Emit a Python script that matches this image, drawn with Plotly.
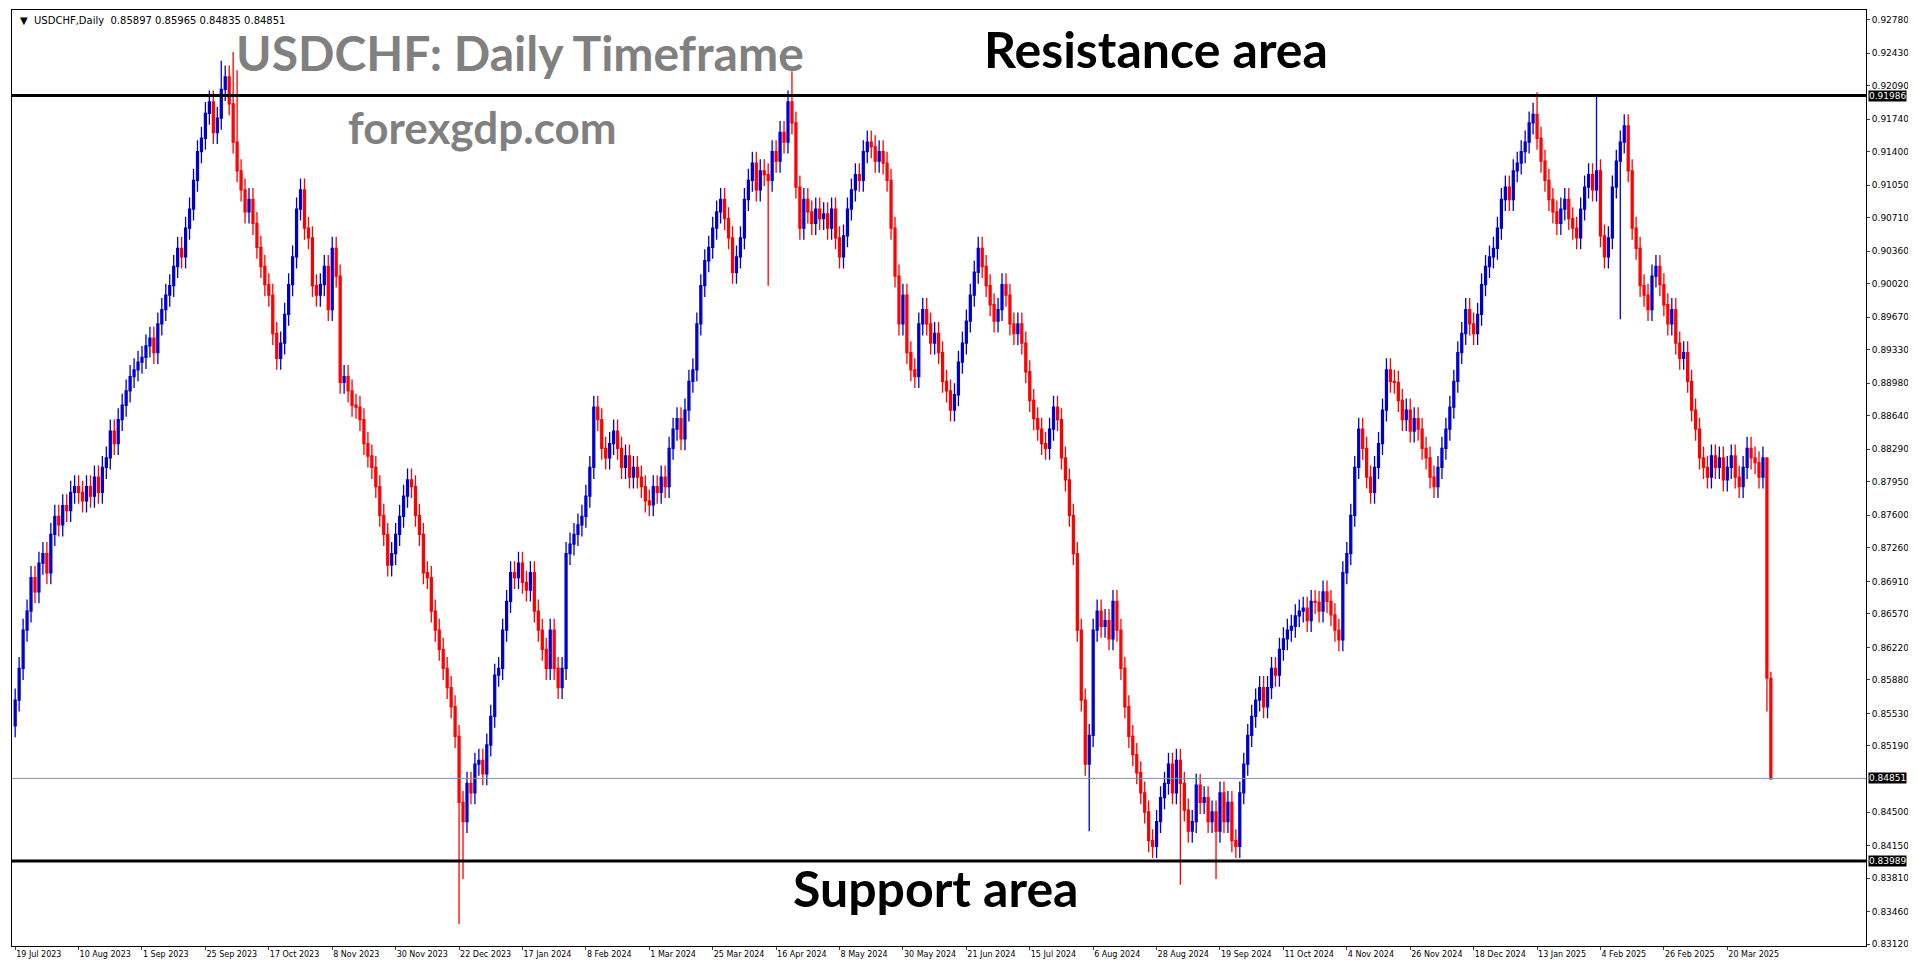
import plotly.graph_objects as go

# daily closes, 16 bars per date label
closes = [
    0.8567, 0.8600, 0.8640, 0.8660, 0.8695, 0.8680, 0.8710, 0.8720, 0.8700, 0.8740, 0.8759, 0.8750, 0.8770, 0.8765, 0.8784, 0.8790,
    0.8784, 0.8775, 0.8790, 0.8780, 0.8800, 0.8784, 0.8810, 0.8820, 0.8848, 0.8835, 0.8860, 0.8875, 0.8890, 0.8905, 0.8912, 0.8920,
    0.8925, 0.8937, 0.8945, 0.8930, 0.8960, 0.8975, 0.8990, 0.9000, 0.9020, 0.9039, 0.9030, 0.9060, 0.9080, 0.9110, 0.9140, 0.9154,
    0.9180, 0.9192, 0.9160, 0.9175, 0.9205, 0.9218, 0.9190, 0.9150, 0.9120, 0.9100, 0.9077, 0.9090, 0.9065, 0.9040, 0.9020, 0.9001,
    0.8990, 0.8950, 0.8924, 0.8940, 0.8970, 0.9001, 0.9030, 0.9080, 0.9100, 0.9060, 0.9050, 0.9000, 0.8990, 0.9001, 0.9020, 0.8975,
    0.9039, 0.9010, 0.8899, 0.8905, 0.8890, 0.8875, 0.8873, 0.8860, 0.8835, 0.8822, 0.8810, 0.8790, 0.8760, 0.8740, 0.8708, 0.8720,
    0.8740, 0.8759, 0.8780, 0.8797, 0.8790, 0.8760, 0.8740, 0.8700, 0.8695, 0.8660, 0.8640, 0.8620, 0.8600, 0.8580, 0.8560, 0.8529,
    0.8460, 0.8440, 0.8480, 0.8470, 0.8500, 0.8504, 0.8490, 0.8520, 0.8550, 0.8593, 0.8600, 0.8640, 0.8670, 0.8700, 0.8695, 0.8710,
    0.8690, 0.8682, 0.8700, 0.8660, 0.8640, 0.8620, 0.8600, 0.8640, 0.8600, 0.8580, 0.8600, 0.8720, 0.8730, 0.8740, 0.8750, 0.8759,
    0.8780, 0.8810, 0.8873, 0.8860, 0.8830, 0.8820, 0.8835, 0.8848, 0.8830, 0.8810, 0.8822, 0.8800, 0.8810, 0.8800, 0.8790, 0.8775,
    0.8771, 0.8790, 0.8784, 0.8800, 0.8790, 0.8830, 0.8850, 0.8861, 0.8840, 0.8870, 0.8900, 0.8912, 0.8960, 0.9000, 0.9026, 0.9040,
    0.9060, 0.9077, 0.9090, 0.9070, 0.9050, 0.9014, 0.9030, 0.9050, 0.9090, 0.9110, 0.9128, 0.9100, 0.9120, 0.9116, 0.9110, 0.9140,
    0.9130, 0.9160, 0.9150, 0.9192, 0.9170, 0.9103, 0.9060, 0.9090, 0.9077, 0.9065, 0.9080, 0.9070, 0.9075, 0.9060, 0.9080, 0.9050,
    0.9030, 0.9052, 0.9080, 0.9100, 0.9116, 0.9110, 0.9140, 0.9150, 0.9145, 0.9130, 0.9140, 0.9128, 0.9110, 0.9060, 0.9010, 0.8960,
    0.8990, 0.8930, 0.8912, 0.8905, 0.8960, 0.8975, 0.8960, 0.8940, 0.8950, 0.8930, 0.8900, 0.8890, 0.8870, 0.8886, 0.8920, 0.8940,
    0.8963, 0.8990, 0.9014, 0.9039, 0.9020, 0.9000, 0.8980, 0.8963, 0.8975, 0.9001, 0.8990, 0.8960, 0.8950, 0.8960, 0.8940, 0.8910,
    0.8880, 0.8861, 0.8850, 0.8835, 0.8830, 0.8850, 0.8873, 0.8860, 0.8820, 0.8797, 0.8760, 0.8720, 0.8640, 0.8567, 0.8500, 0.8530,
    0.8640, 0.8660, 0.8644, 0.8650, 0.8631, 0.8670, 0.8640, 0.8600, 0.8560, 0.8529, 0.8510, 0.8491, 0.8470, 0.8450, 0.8420, 0.8414,
    0.8440, 0.8465, 0.8480, 0.8500, 0.8470, 0.8504, 0.8480, 0.8452, 0.8430, 0.8440, 0.8478, 0.8460, 0.8465, 0.8440, 0.8450, 0.8430,
    0.8470, 0.8440, 0.8460, 0.8420, 0.8414, 0.8470, 0.8500, 0.8530, 0.8550, 0.8567, 0.8580, 0.8560, 0.8580, 0.8600, 0.8593, 0.8620,
    0.8631, 0.8640, 0.8644, 0.8655, 0.8660, 0.8663, 0.8650, 0.8670, 0.8669, 0.8660, 0.8680, 0.8670, 0.8656, 0.8640, 0.8630, 0.8700,
    0.8720, 0.8760, 0.8810, 0.8850, 0.8830, 0.8800, 0.8784, 0.8810, 0.8835, 0.8870, 0.8912, 0.8900, 0.8899, 0.8880, 0.8860, 0.8870,
    0.8848, 0.8861, 0.8850, 0.8830, 0.8820, 0.8800, 0.8790, 0.8810, 0.8830, 0.8850, 0.8873, 0.8900, 0.8930, 0.8950, 0.8975, 0.8960,
    0.8950, 0.8970, 0.9001, 0.9020, 0.9030, 0.9039, 0.9060, 0.9090, 0.9103, 0.9090, 0.9120, 0.9128, 0.9140, 0.9150, 0.9170, 0.9179,
    0.9154, 0.9130, 0.9110, 0.9090, 0.9077, 0.9065, 0.9080, 0.9090, 0.9070, 0.9060, 0.9050, 0.9080, 0.9103, 0.9116, 0.9100, 0.9120,
    0.9052, 0.9030, 0.9050, 0.9103, 0.9130, 0.9150, 0.9167, 0.9120, 0.9060, 0.9039, 0.9000, 0.8990, 0.8975, 0.9010, 0.9020, 0.9001,
    0.8980, 0.8960, 0.8975, 0.8940, 0.8924, 0.8930, 0.8900, 0.8870, 0.8850, 0.8820, 0.8810, 0.8800, 0.8822, 0.8810, 0.8820, 0.8797,
    0.8810, 0.8822, 0.8800, 0.8790, 0.8810, 0.8830, 0.8820, 0.8815, 0.8800, 0.8820, 0.8590, 0.8485,
]
first_open = 0.8540

# notable wicks: bar index -> (high, low)
spikes = {
    52: (0.9235, None), 55: (0.9244, None), 56: (0.9225, None),
    112: (None, 0.8333), 113: (None, 0.8380),
    196: (0.9224, None), 190: (None, 0.9000),
    271: (None, 0.8430), 294: (None, 0.8374), 303: (None, 0.8380),
    384: (0.9202, None), 399: (0.9200, None), 405: (None, 0.8965),
    442: (0.8600, 0.8555), 443: (0.85965, 0.84835),
}
wick = 0.0012

date_labels = ["19 Jul 2023", "10 Aug 2023", "1 Sep 2023", "25 Sep 2023", "17 Oct 2023", "8 Nov 2023",
               "30 Nov 2023", "22 Dec 2023", "17 Jan 2024", "8 Feb 2024", "1 Mar 2024", "25 Mar 2024",
               "16 Apr 2024", "8 May 2024", "30 May 2024", "21 Jun 2024", "15 Jul 2024", "6 Aug 2024",
               "28 Aug 2024", "19 Sep 2024", "11 Oct 2024", "4 Nov 2024", "26 Nov 2024", "18 Dec 2024",
               "13 Jan 2025", "4 Feb 2025", "26 Feb 2025", "20 Mar 2025"]
price_ticks = [0.92780, 0.92430, 0.92090, 0.91740, 0.91400, 0.91050, 0.90710, 0.90360, 0.90020,
               0.89670, 0.89330, 0.88980, 0.88640, 0.88290, 0.87950, 0.87600, 0.87260, 0.86910,
               0.86570, 0.86220, 0.85880, 0.85530, 0.85190, 0.84500, 0.84150, 0.83810, 0.83460, 0.83120]
resistance = 0.91986
support = 0.83989
last_price = 0.84851

opens = [first_open] + closes[:-1]
opens[-1] = 0.85897
highs, lows = [], []
for i, (o, c) in enumerate(zip(opens, closes)):
    h, l = max(o, c) + wick, min(o, c) - wick
    if i in spikes:
        sh, sl = spikes[i]
        h = sh if sh is not None else h
        l = sl if sl is not None else l
    highs.append(h)
    lows.append(l)
x = list(range(len(closes)))

axis_font = dict(size=9, family="Tahoma, DejaVu Sans", color="black")

fig = go.Figure(go.Candlestick(
    x=x, open=opens, high=highs, low=lows, close=closes,
    increasing=dict(line=dict(color="#0000CD", width=1.3), fillcolor="#0000CD"),
    decreasing=dict(line=dict(color="#FF0000", width=1.3), fillcolor="#FF0000"),
    whiskerwidth=0, showlegend=False, hoverinfo="skip"))

for lvl, col, w in [(resistance, "black", 3), (support, "black", 3), (last_price, "#8090A0", 1)]:
    fig.add_shape(type="line", xref="paper", x0=0, x1=1, y0=lvl, y1=lvl,
                  line=dict(color=col, width=w))
    fig.add_annotation(xref="paper", x=1.001, y=lvl, xanchor="left", text="%.5f" % lvl,
                       showarrow=False, bgcolor="black", font=dict(axis_font, color="white"),
                       borderpad=0)

fig.add_annotation(xref="paper", yref="paper", x=0.12, y=0.955, xanchor="left", yanchor="middle",
                   text="<b>USDCHF: Daily Timeframe</b>", showarrow=False,
                   font=dict(size=48, color="#808080", family="Lato"))
fig.add_annotation(xref="paper", yref="paper", x=0.18, y=0.875, xanchor="left", yanchor="middle",
                   text="<b>forexgdp.com</b>", showarrow=False,
                   font=dict(size=44, color="#808080", family="Lato"))
fig.add_annotation(xref="paper", yref="paper", x=0.523, y=0.958, xanchor="left", yanchor="middle",
                   text="<b>Resistance area</b>", showarrow=False,
                   font=dict(size=50, color="black", family="Lato"))
fig.add_annotation(xref="paper", yref="paper", x=0.42, y=0.062, xanchor="left", yanchor="middle",
                   text="<b>Support area</b>", showarrow=False,
                   font=dict(size=50, color="black", family="Lato"))
fig.add_annotation(xref="paper", yref="paper", x=0.003, y=0.997, xanchor="left", yanchor="top",
                   text="▼  USDCHF,Daily  0.85897 0.85965 0.84835 0.84851", showarrow=False,
                   font=dict(size=10, color="black", family="Tahoma, DejaVu Sans"))

fig.update_layout(
    width=1916, height=964, paper_bgcolor="white", plot_bgcolor="white",
    margin=dict(l=4, r=58, t=2, b=26, autoexpand=False),
    xaxis=dict(range=[-0.8, len(closes) + 23], rangeslider=dict(visible=False),
               tickvals=[i * 16 for i in range(len(date_labels))], ticktext=date_labels,
               ticklabelposition="outside right", tickangle=0,
               showgrid=False, showline=True, linecolor="black", mirror=True, ticks="outside",
               ticklen=3, tickfont=dict(axis_font, size=8)),
    yaxis=dict(range=[0.8310, 0.9288], side="right", tickvals=price_ticks,
               ticktext=["%.5f" % p for p in price_ticks], showgrid=False,
               showline=True, linecolor="black", mirror=True, ticks="outside", ticklen=3,
               tickfont=axis_font),
)

fig.write_html("out.html")
